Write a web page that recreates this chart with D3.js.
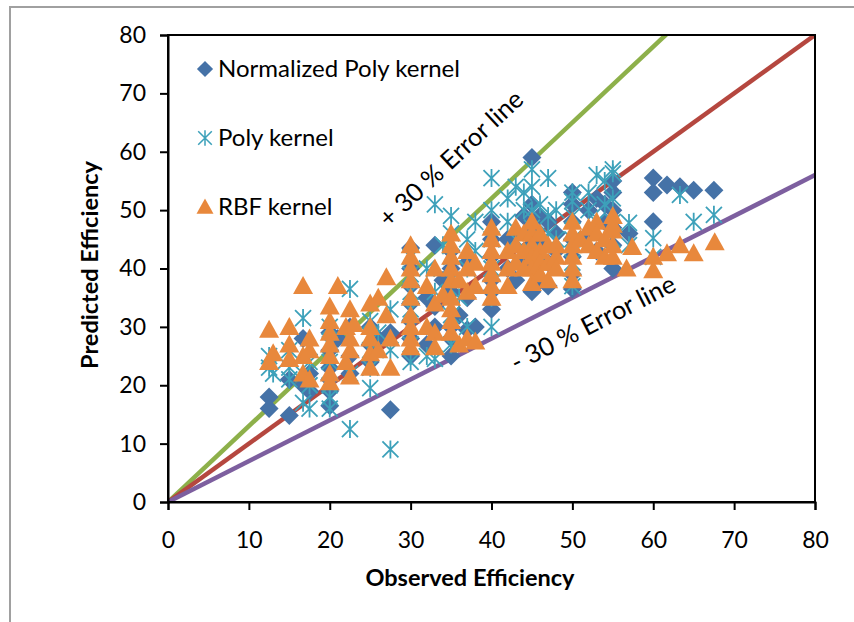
<!DOCTYPE html>
<html>
<head>
<meta charset="utf-8">
<script src="https://cdn.jsdelivr.net/npm/d3@7"></script>
<style>
  body { margin: 0; background: #fff; }
  svg { font-family: Lato, "Open Sans", sans-serif; }
  .tick text { font-size: 23px; fill: #000; }
  .axis-title { font-size: 23.5px; font-weight: bold; }
  .legend text { font-size: 24px; }
  .err-label { font-size: 25.5px; }
</style>
</head>
<body>
<svg width="854" height="622"></svg>
<script>
// observed / predicted pairs for each model
const normPoly = [
  [12.5, 18], [12.5, 16], [15, 14.8], [15, 21], [16.7, 20], [16.7, 28], [17.5, 19], [17.5, 22],
  [20, 16.5], [20, 19], [20, 21], [20, 23], [20, 26], [20, 29], [21, 28], [22.5, 22], [22.5, 25], [22.5, 30],
  [25, 24], [25, 27], [25, 30], [26, 28], [27.5, 15.8], [27.5, 29],
  [30, 25], [30, 28], [30, 31], [30, 34], [30, 37], [30, 40], [30, 43.5], [32, 27], [32, 35],
  [33, 30], [33, 33.5], [33, 44], [34, 38], [35, 25], [35, 28], [35, 30], [35, 36], [35, 40], [35, 43],
  [36, 32], [37, 29.5], [37, 35], [37, 41], [38, 30],
  [40, 33], [40, 36], [40, 38], [40, 42], [40, 45], [40, 48], [42, 40], [42, 45], [43, 38], [43, 46],
  [44, 42], [44, 49], [45, 59], [45, 36], [45, 40], [45, 44], [45, 47], [45, 51], [46, 38], [46, 45], [46, 49],
  [47, 37], [47, 41], [47, 48], [48, 43], [48, 46],
  [50, 36.5], [50, 39], [50, 42], [50, 45], [50, 48], [50, 51], [50, 53], [52, 46], [52, 50], [53, 43], [53, 52],
  [54, 48], [54, 51], [55, 40], [55, 44], [55, 47], [55, 50], [55, 53], [55, 55], [57, 46],
  [60, 55.5], [60, 53], [60, 48], [61.7, 54.3], [63.3, 54], [65, 53.4], [67.5, 53.4]
];
const poly = [
  [12.5, 23], [12.5, 25], [13, 22], [15, 21], [15, 23], [15, 26], [16.7, 31.5], [16.7, 17], [16.7, 22],
  [17.5, 16], [17.5, 20], [17.5, 24], [20, 16], [20, 18], [20, 20], [20, 24], [20, 27], [20, 30],
  [22.5, 12.5], [22.5, 22], [22.5, 36.5], [25, 19.5], [25, 23], [25, 26], [25, 31], [26, 29],
  [27.5, 9], [27.5, 26], [27.5, 33],
  [30, 24], [30, 27], [30, 30], [30, 33], [30, 36], [30, 39], [30, 42], [32, 25], [32, 40],
  [33, 51], [33, 24.5], [33, 36], [34, 44], [35, 49], [35, 27], [35, 32], [35, 38], [35, 42], [35, 46],
  [36, 35], [37, 30], [37, 40], [37, 45], [38, 43], [38, 48],
  [40, 55.5], [40, 30], [40, 35], [40, 40], [40, 45], [40, 50], [42, 48], [42, 52], [43, 54], [43, 45],
  [44, 50], [44, 53], [45, 57], [45, 43], [45, 47], [45, 50], [45, 54], [46, 42], [46, 51],
  [47, 55.5], [47, 46], [47, 49], [48, 45], [48, 50],
  [50, 53], [50, 37], [50, 41], [50, 45], [50, 49], [50, 51.5], [52, 50], [52, 53], [53, 56], [53, 48],
  [54, 51], [54, 55], [55, 57], [55, 56.3], [55, 52], [55, 48], [55, 45], [57, 47.8], [57, 44],
  [60, 45.2], [60, 42], [63.3, 52.6], [65, 48], [67.5, 49.2]
];
const rbf = [
  [12.5, 29.5], [12.5, 24], [13, 25.5], [15, 30], [15, 27], [15, 24.5], [16.7, 37], [16.7, 22], [16.7, 25],
  [17.5, 28], [17.5, 26], [17.5, 21],
  [20, 33.5], [20, 31], [20, 29], [20, 27], [20, 25], [20, 22], [20, 20.5], [21, 37], [22, 30], [22, 24],
  [22.5, 33], [22.5, 28], [22.5, 26], [22.5, 21.5], [23, 30.5],
  [25, 34], [25, 30], [25, 28], [25, 25.5], [25, 23], [26, 26], [26, 35], [27, 38.5], [27, 32], [27.5, 23], [27.5, 28],
  [30, 44], [30, 42], [30, 40], [30, 38], [30, 35], [30, 32], [30, 30], [30, 28], [30, 26.5],
  [32, 37], [32, 30], [33, 40], [33, 29], [33, 26.5], [33, 34], [34, 35.5],
  [35, 46], [35, 44], [35, 42], [35, 40], [35, 38], [35, 35], [35, 33], [35, 31], [35, 29],
  [36, 38], [36, 27], [37, 43], [37, 40], [37, 36], [37, 28], [38, 41], [38, 37], [38, 27.5],
  [40, 47], [40, 45], [40, 43], [40, 41], [40, 39], [40, 37], [40, 35], [42, 40], [42, 43], [42, 37],
  [43, 47], [43, 44], [43, 41], [44, 46], [44, 40], [44, 43], [45, 48], [45, 46], [45, 44], [45, 42], [45, 40], [45, 37.5],
  [46, 46], [46, 43], [46, 41], [46, 39], [47, 44], [47, 41], [47, 38], [48, 44], [48, 42], [48, 40],
  [50, 48], [50, 46], [50, 44], [50, 42], [50, 40], [50, 38], [51, 45], [52, 47], [52, 44], [53, 48], [53, 46], [53, 43],
  [54, 45], [54, 42], [55, 49], [55, 47.5], [55, 46.5], [55, 44], [55, 42], [56.7, 40], [57.4, 43.7],
  [60, 42], [60, 39.7], [61.7, 42.6], [63.3, 44], [65, 42.6], [67.6, 44.5]
];
// reference lines y = k * x
const errorLines = [
  { k: 1.3, color: "#8db04a" },
  { k: 1.0, color: "#b5473f" },
  { k: 0.7, color: "#7d5f9f" }
];
const xTicks = [0, 10, 20, 30, 40, 50, 60, 70, 80];
const yTicks = [0, 10, 20, 30, 40, 50, 60, 70, 80];

const svg = d3.select("svg");

// outer chart frame
svg.append("rect")
  .attr("x", 10).attr("y", 7)
  .attr("width", 900).attr("height", 700)
  .attr("fill", "none")
  .attr("stroke", "#a0a0a0")
  .attr("stroke-width", 2);

const plotLeft = 168, plotTop = 35, width = 647, height = 467;
const chart = svg.append("g").attr("transform", `translate(${plotLeft}, ${plotTop})`);

const x = d3.scaleLinear().domain([0, 80]).range([0, width]);
const y = d3.scaleLinear().domain([0, 80]).range([height, 0]);

// clip so error lines stop at the plot border
chart.append("clipPath").attr("id", "plot-clip")
  .append("rect").attr("width", width).attr("height", height);

const lines = chart.append("g").attr("clip-path", "url(#plot-clip)");
lines.selectAll("line")
  .data(errorLines)
  .enter()
  .append("line")
  .attr("x1", x(0)).attr("y1", y(0))
  .attr("x2", (d) => x(80))
  .attr("y2", (d) => y(80 * d.k))
  .attr("stroke", (d) => d.color)
  .attr("stroke-width", 4.5);

// markers
const diamond = "M0,-9.5L9.5,0L0,9.5L-9.5,0Z";
const triangle = "M0,-10L10,8L-10,8Z";
const star = "M0,-9V9M-8,-8L8,8M-8,8L8,-8";

chart.append("g").selectAll("path")
  .data(normPoly)
  .enter()
  .append("path")
  .attr("d", diamond)
  .attr("transform", (d) => `translate(${x(d[0])}, ${y(d[1])})`)
  .attr("fill", "#4572a7");

chart.append("g").selectAll("path")
  .data(poly)
  .enter()
  .append("path")
  .attr("d", star)
  .attr("transform", (d) => `translate(${x(d[0])}, ${y(d[1])})`)
  .attr("fill", "none")
  .attr("stroke", "#3da1ba")
  .attr("stroke-width", 1.8);

chart.append("g").selectAll("path")
  .data(rbf)
  .enter()
  .append("path")
  .attr("d", triangle)
  .attr("transform", (d) => `translate(${x(d[0])}, ${y(d[1])})`)
  .attr("fill", "#e8883c");

// plot border
chart.append("rect")
  .attr("width", width).attr("height", height)
  .attr("fill", "none")
  .attr("stroke", "#000")
  .attr("stroke-width", 2);

// axes
const xAxis = chart.append("g")
  .attr("transform", `translate(0, ${height})`)
  .call(d3.axisBottom(x).tickValues(xTicks).tickSize(8).tickPadding(22));
const yAxis = chart.append("g")
  .call(d3.axisLeft(y).tickValues(yTicks).tickSize(8).tickPadding(14));
[xAxis, yAxis].forEach((a) => {
  a.attr("font-family", null).attr("font-size", null);
  a.selectAll("path").attr("stroke", "#000").attr("stroke-width", 2);
  a.selectAll(".tick line").attr("stroke", "#000").attr("stroke-width", 2);
});

svg.append("text")
  .attr("class", "axis-title")
  .attr("x", 470)
  .attr("y", 586)
  .attr("text-anchor", "middle")
  .text("Observed Efficiency");

svg.append("text")
  .attr("class", "axis-title")
  .attr("transform", `translate(98, 265) rotate(-90)`)
  .attr("text-anchor", "middle")
  .text("Predicted Efficiency");

// error line labels
svg.append("text")
  .attr("class", "err-label")
  .attr("transform", "translate(457, 165) rotate(-43)")
  .attr("text-anchor", "middle")
  .text("+ 30 % Error line");

svg.append("text")
  .attr("class", "err-label")
  .attr("transform", "translate(597, 331) rotate(-27)")
  .attr("text-anchor", "middle")
  .text("- 30 % Error line");

// legend
const legendItems = [
  { label: "Normalized Poly kernel", shape: diamond, fill: "#4572a7", stroke: "none" },
  { label: "Poly kernel", shape: star, fill: "none", stroke: "#3da1ba" },
  { label: "RBF kernel", shape: triangle, fill: "#e8883c", stroke: "none" }
];
const legend = svg.append("g").attr("class", "legend");
const item = legend.selectAll("g")
  .data(legendItems)
  .enter()
  .append("g")
  .attr("transform", (d, i) => `translate(205, ${69 + i * 69})`);
item.append("path")
  .attr("d", (d) => d.shape)
  .attr("transform", "scale(0.85)")
  .attr("fill", (d) => d.fill)
  .attr("stroke", (d) => d.stroke)
  .attr("stroke-width", 1.8);
item.append("text")
  .attr("x", 13)
  .attr("y", 8)
  .text((d) => d.label);
</script>
</body>
</html>
